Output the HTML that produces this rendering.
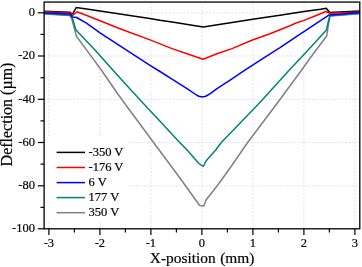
<!DOCTYPE html>
<html><head><meta charset="utf-8"><title>Deflection vs X-position</title>
<style>
html,body{margin:0;padding:0;background:#fff;}
svg{display:block;}
text{font-family:"Liberation Serif","Times New Roman",serif;fill:#000;stroke:#000;stroke-width:0.18px;}
.tl{font-size:12.5px;}
.al{font-size:15.4px;word-spacing:0.6px;}
</style></head><body>
<svg width="362" height="267" viewBox="0 0 362 267">
<rect x="0" y="0" width="362" height="267" fill="#fff"/>

<g stroke="#e1e1e1" stroke-width="1" stroke-dasharray="2 1.67" fill="none">
<line x1="48.9" y1="2.05" x2="48.9" y2="228.8"/>
<line x1="99.9" y1="2.05" x2="99.9" y2="228.8"/>
<line x1="150.9" y1="2.05" x2="150.9" y2="228.8"/>
<line x1="201.9" y1="2.05" x2="201.9" y2="228.8"/>
<line x1="252.9" y1="2.05" x2="252.9" y2="228.8"/>
<line x1="303.9" y1="2.05" x2="303.9" y2="228.8"/>
<line x1="354.9" y1="2.05" x2="354.9" y2="228.8"/>
<line x1="44.1" y1="12.8" x2="359.8" y2="12.8"/>
<line x1="44.1" y1="56.0" x2="359.8" y2="56.0"/>
<line x1="44.1" y1="99.3" x2="359.8" y2="99.3"/>
<line x1="44.1" y1="142.5" x2="359.8" y2="142.5"/>
<line x1="44.1" y1="185.8" x2="359.8" y2="185.8"/>
</g>
<clipPath id="c"><rect x="44.1" y="2.05" width="315.7" height="226.75"/></clipPath>
<g clip-path="url(#c)" fill="none" stroke-width="1.5" stroke-linejoin="round" stroke-linecap="butt">
<polyline stroke="#808080" points="44.0,13.9 70.0,15.6 71.6,18.5 73.0,23.2 74.9,30.5 76.4,36.2 90.0,54.6 101.3,70.0 117.8,94.0 131.0,112.0 153.0,141.7 175.5,172.0 184.8,184.8 199.4,205.2 201.5,205.9 203.6,206.1 206.2,199.8 218.0,184.8 231.1,166.5 247.3,143.0 279.6,100.0 300.2,72.0 310.9,57.0 326.7,36.0 328.6,24.0 330.0,16.0 360.0,13.7"/>
<polyline stroke="#000000" points="44.0,11.3 70.0,12.3 72.4,14.3 76.2,7.5 90.0,9.5 100.0,10.9 149.7,18.4 160.0,20.3 172.0,22.0 203.2,26.9 232.0,22.6 252.7,19.3 280.0,15.2 304.0,11.6 315.0,9.9 320.8,9.3 326.2,8.2 329.8,12.5 360.0,10.9"/>
<polyline stroke="#008080" points="44.0,13.6 70.4,15.3 72.5,18.6 73.9,23.0 75.3,28.0 76.2,30.2 95.0,50.0 112.8,70.0 134.6,94.0 149.4,110.0 153.3,114.0 179.0,141.7 187.1,150.0 198.9,163.5 201.3,165.2 203.3,166.3 204.6,164.0 206.2,160.7 215.7,150.0 221.3,142.5 252.7,110.0 262.2,100.0 287.5,72.0 303.5,55.1 326.5,30.0 328.2,22.0 329.8,15.7 360.0,13.3"/>
<polyline stroke="#ff0000" points="44.0,11.8 70.0,13.1 72.8,15.3 77.0,11.7 90.0,16.8 100.0,20.8 120.0,28.7 150.0,39.9 172.0,48.6 187.0,53.7 203.1,59.3 217.0,53.7 232.0,48.6 252.5,40.0 270.0,33.7 280.0,29.8 290.0,25.7 296.0,23.0 304.0,20.4 315.0,16.0 325.8,11.5 329.8,13.3 360.0,11.9"/>
<polyline stroke="#0000ff" points="44.0,12.7 70.0,14.1 72.4,17.0 76.6,17.5 86.5,23.1 100.0,32.8 130.0,52.4 150.0,65.3 160.0,71.5 172.0,79.1 187.0,88.6 196.5,95.0 198.8,96.3 201.0,96.8 204.0,96.7 206.3,96.0 210.6,93.3 217.0,88.6 232.0,78.8 240.0,73.4 252.6,65.2 267.0,55.8 280.0,47.7 296.0,36.8 329.2,14.9 360.0,12.4"/>
</g>
<rect x="44.5" y="138" width="83" height="83" fill="#fff"/>
<rect x="44.1" y="2.05" width="315.7" height="226.75" fill="none" stroke="#000" stroke-width="1.3"/>
<g stroke="#000" stroke-width="1.2">
<line x1="48.9" y1="228.8" x2="48.9" y2="235.0"/>
<line x1="74.4" y1="228.8" x2="74.4" y2="232.4"/>
<line x1="99.9" y1="228.8" x2="99.9" y2="235.0"/>
<line x1="125.4" y1="228.8" x2="125.4" y2="232.4"/>
<line x1="150.9" y1="228.8" x2="150.9" y2="235.0"/>
<line x1="176.4" y1="228.8" x2="176.4" y2="232.4"/>
<line x1="201.9" y1="228.8" x2="201.9" y2="235.0"/>
<line x1="227.4" y1="228.8" x2="227.4" y2="232.4"/>
<line x1="252.9" y1="228.8" x2="252.9" y2="235.0"/>
<line x1="278.4" y1="228.8" x2="278.4" y2="232.4"/>
<line x1="303.9" y1="228.8" x2="303.9" y2="235.0"/>
<line x1="329.4" y1="228.8" x2="329.4" y2="232.4"/>
<line x1="354.9" y1="228.8" x2="354.9" y2="235.0"/>
<line x1="44.1" y1="12.8" x2="37.800000000000004" y2="12.8"/>
<line x1="44.1" y1="34.4" x2="40.5" y2="34.4"/>
<line x1="44.1" y1="56.0" x2="37.800000000000004" y2="56.0"/>
<line x1="44.1" y1="77.7" x2="40.5" y2="77.7"/>
<line x1="44.1" y1="99.3" x2="37.800000000000004" y2="99.3"/>
<line x1="44.1" y1="120.9" x2="40.5" y2="120.9"/>
<line x1="44.1" y1="142.5" x2="37.800000000000004" y2="142.5"/>
<line x1="44.1" y1="164.1" x2="40.5" y2="164.1"/>
<line x1="44.1" y1="185.8" x2="37.800000000000004" y2="185.8"/>
<line x1="44.1" y1="207.4" x2="40.5" y2="207.4"/>
<line x1="44.1" y1="228.8" x2="37.800000000000004" y2="228.8"/>
</g>
<text class="tl" x="48.9" y="247.4" text-anchor="middle">-3</text>
<text class="tl" x="99.9" y="247.4" text-anchor="middle">-2</text>
<text class="tl" x="150.9" y="247.4" text-anchor="middle">-1</text>
<text class="tl" x="201.9" y="247.4" text-anchor="middle">0</text>
<text class="tl" x="252.9" y="247.4" text-anchor="middle">1</text>
<text class="tl" x="303.9" y="247.4" text-anchor="middle">2</text>
<text class="tl" x="354.9" y="247.4" text-anchor="middle">3</text>
<text class="tl" x="34.9" y="16.0" text-anchor="end">0</text>
<text class="tl" x="34.9" y="59.2" text-anchor="end">-20</text>
<text class="tl" x="34.9" y="102.5" text-anchor="end">-40</text>
<text class="tl" x="34.9" y="145.7" text-anchor="end">-60</text>
<text class="tl" x="34.9" y="189.0" text-anchor="end">-80</text>
<text class="tl" x="34.9" y="232.2" text-anchor="end">-100</text>
<text class="al" x="202.1" y="263.2" text-anchor="middle">X-position (mm)</text>
<text class="al" style="font-size:16px;word-spacing:0" transform="translate(11.6,114.5) rotate(-90)" text-anchor="middle">Deflection (µm)</text>
<line x1="56.6" y1="152.4" x2="85" y2="152.4" stroke="#000000" stroke-width="1.5"/>
<text class="tl" x="88.5" y="155.6">-350 V</text>
<line x1="56.6" y1="167.5" x2="85" y2="167.5" stroke="#ff0000" stroke-width="1.5"/>
<text class="tl" x="88.5" y="170.7">-176 V</text>
<line x1="56.6" y1="182.6" x2="85" y2="182.6" stroke="#0000ff" stroke-width="1.5"/>
<text class="tl" x="88.5" y="185.8">6 V</text>
<line x1="56.6" y1="197.6" x2="85" y2="197.6" stroke="#008080" stroke-width="1.5"/>
<text class="tl" x="88.5" y="200.8">177 V</text>
<line x1="56.6" y1="212.7" x2="85" y2="212.7" stroke="#808080" stroke-width="1.5"/>
<text class="tl" x="88.5" y="215.9">350 V</text>
</svg>
</body></html>
